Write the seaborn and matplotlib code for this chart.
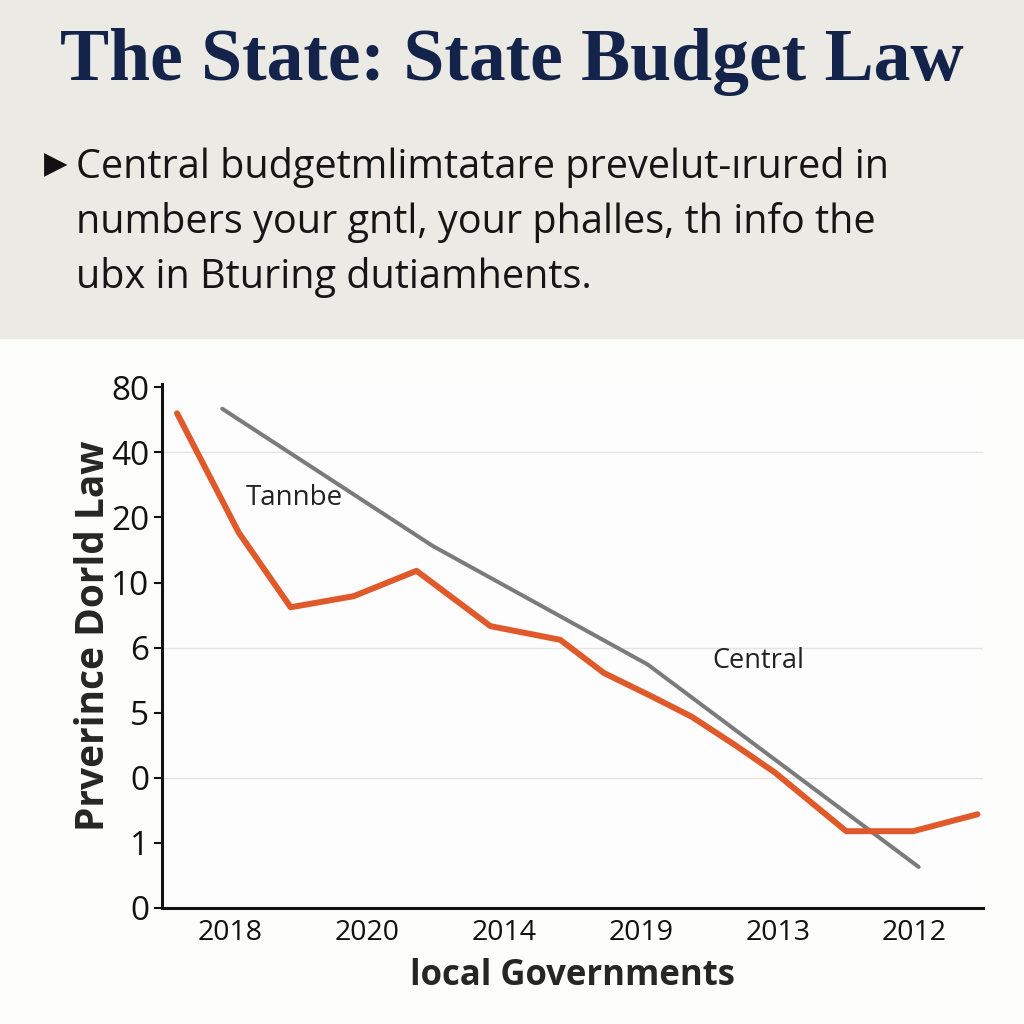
import pandas as pd
import matplotlib.pyplot as plt
import seaborn as sns

# y axis is categorical: tick labels sit on evenly spaced slots 0..8
y_tick_labels = ["0", "1", "0", "5", "6", "10", "20", "40", "80"]
x_tick_labels = ["2018", "2020", "2014", "2019", "2013", "2012"]

# orange series (x slot, y slot)
local_x = [0.11, 0.56, 0.94, 1.40, 1.86, 2.40, 2.91, 3.23, 3.57, 3.87, 4.19, 4.48, 5.00, 5.49, 5.96]
local_y = [7.60, 5.77, 4.62, 4.79, 5.18, 4.33, 4.12, 3.61, 3.26, 2.94, 2.50, 2.08, 1.18, 1.18, 1.44]

# gray series
central_x = [0.44, 1.98, 3.55, 5.53]
central_y = [7.67, 5.56, 3.74, 0.63]

title = "The State: State Budget Law"
bullet_lines = [
    "Central budgetmlimtatare prevelut-ırured in",
    "numbers your gntl, your phalles, th info the",
    "ubx in Bturing dutiamhents.",
]


def main():
    sns.set_style("white")
    plt.rcParams["font.family"] = ["Open Sans", "DejaVu Sans"]

    df = pd.concat([
        pd.DataFrame({"x": local_x, "y": local_y, "series": "Tannbe"}),
        pd.DataFrame({"x": central_x, "y": central_y, "series": "Central"}),
    ])

    fig = plt.figure(figsize=(10.24, 10.24), dpi=100)
    fig.patch.set_facecolor("#fdfdfc")

    # header band
    fig.patches.append(plt.Rectangle((0, 1 - 338 / 1024), 1, 338 / 1024,
                                     transform=fig.transFigure, color="#ebeae5", zorder=0))
    fig.text(0.5, 1 - 80 / 1024, title, ha="center", va="baseline",
             fontsize=53, fontweight="bold", color="#13234a", family="Liberation Serif")
    fig.text(44 / 1024, 1 - 165 / 1024, "\u25b6", ha="left", va="center",
             fontsize=22, color="#111111", family="DejaVu Sans")
    for i, line in enumerate(bullet_lines):
        fig.text(76 / 1024, 1 - (178 + 55 * i) / 1024, line, ha="left", va="baseline",
                 fontsize=28.5, color="#151515")

    ax = fig.add_axes([162 / 1024, 116 / 1024, 821 / 1024, 524 / 1024])
    ax.set_facecolor("#fdfdfd")

    for yy in [7, 4, 2]:
        ax.axhline(yy, color="#e4e4e4", lw=1, zorder=0)

    sns.lineplot(data=df, x="x", y="y", hue="series", sort=False, estimator=None,
                 palette={"Tannbe": "#e0592a", "Central": "#7b7b7b"},
                 legend=False, ax=ax)
    ax.lines[-2].set_linewidth(4.3)
    ax.lines[-1].set_linewidth(2.9)
    ax.lines[-2].set_zorder(3)

    ax.set_xlim(0, 6)
    ax.set_ylim(0, 8.05)
    ax.set_xticks([i + 0.5 for i in range(len(x_tick_labels))])
    ax.set_xticklabels(x_tick_labels, fontsize=20.5)
    ax.set_yticks(range(len(y_tick_labels)))
    ax.set_yticklabels(y_tick_labels, fontsize=24)
    ax.tick_params(axis="x", length=0, pad=8, colors="#111111")
    ax.tick_params(axis="y", length=6, width=1.5, pad=3, colors="#111111", left=True)

    sns.despine(ax=ax)
    for side in ["left", "bottom"]:
        ax.spines[side].set_linewidth(2.2)
        ax.spines[side].set_color("#111111")

    ax.set_xlabel("local Governments", fontsize=25, fontweight="bold", labelpad=8)
    ax.set_ylabel("Prverince Dorld Law", fontsize=28, fontweight="bold")
    ax.yaxis.set_label_coords(-0.06, 0.52)

    ax.text(0.61, 6.3, "Tannbe", fontsize=20, color="#222222", va="center")
    ax.text(4.02, 3.8, "Central", fontsize=19.5, color="#222222", va="center")

    fig.savefig("out.png", dpi=100, facecolor=fig.get_facecolor())


if __name__ == "__main__":
    main()
